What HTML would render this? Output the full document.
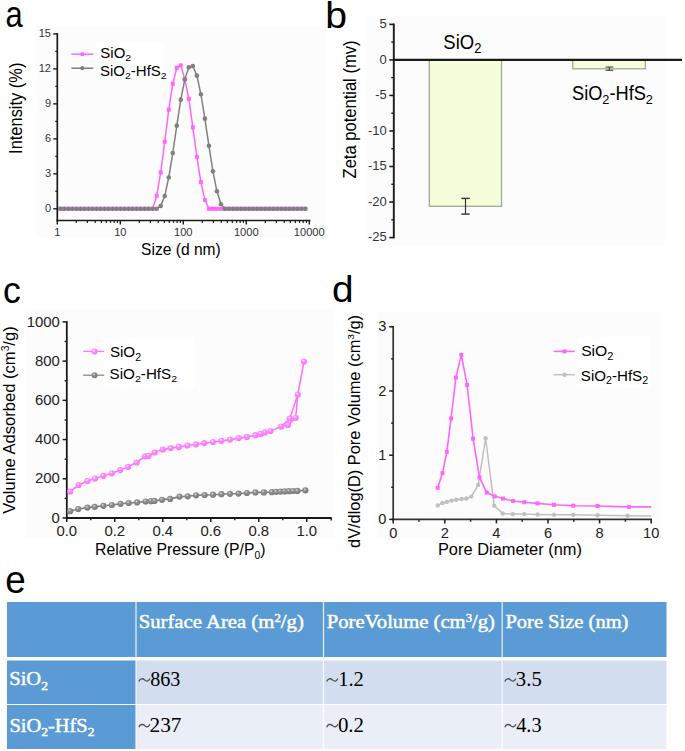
<!DOCTYPE html>
<html><head><meta charset="utf-8"><style>
html,body{margin:0;padding:0;background:#fff;width:685px;height:751px;overflow:hidden}
svg{display:block}
</style></head><body>
<svg width="685" height="751" viewBox="0 0 685 751">
<rect x="0.00" y="0.00" width="685.00" height="751.00" fill="#fff"/>
<defs><radialGradient id="gp" cx="40%" cy="35%" r="65%"><stop offset="0" stop-color="#fff4ff"/><stop offset="0.35" stop-color="#ff8cff"/><stop offset="1" stop-color="#ff6eff"/></radialGradient><radialGradient id="gg" cx="40%" cy="35%" r="65%"><stop offset="0" stop-color="#e0e0e0"/><stop offset="0.35" stop-color="#909090"/><stop offset="1" stop-color="#7a7a7a"/></radialGradient></defs>
<text x="5.49" y="27.27" font-family="&quot;Liberation Sans&quot;, sans-serif" font-size="37.8" fill="#000" textLength="17.24" lengthAdjust="spacingAndGlyphs">a</text>
<text x="325.33" y="27.9" font-family="&quot;Liberation Sans&quot;, sans-serif" font-size="37.83" fill="#000" textLength="21.77" lengthAdjust="spacingAndGlyphs">b</text>
<text x="2.99" y="303.15" font-family="&quot;Liberation Sans&quot;, sans-serif" font-size="37.8" fill="#000" textLength="17.82" lengthAdjust="spacingAndGlyphs">c</text>
<text x="331.92" y="302.45" font-family="&quot;Liberation Sans&quot;, sans-serif" font-size="37.69" fill="#000" textLength="21.58" lengthAdjust="spacingAndGlyphs">d</text>
<text x="5.37" y="592.88" font-family="&quot;Liberation Sans&quot;, sans-serif" font-size="38.05" fill="#000" textLength="20.51" lengthAdjust="spacingAndGlyphs">e</text>
<rect x="36.00" y="26.00" width="290.00" height="211.50" fill="#FCFCFC"/>
<rect x="95.40" y="42.00" width="68.30" height="37.80" fill="#fff"/>
<line x1="57.30" y1="33.10" x2="57.30" y2="221.30" stroke="#1a1a1a" stroke-width="1.7"/>
<line x1="56.50" y1="220.50" x2="310.40" y2="220.50" stroke="#1a1a1a" stroke-width="1.7"/>
<line x1="53.30" y1="208.80" x2="57.30" y2="208.80" stroke="#1a1a1a" stroke-width="1.4"/>
<text x="51.0" y="211.8" font-family="&quot;Liberation Sans&quot;, sans-serif" font-size="11.0" fill="#333" text-anchor="end">0</text>
<line x1="53.30" y1="173.82" x2="57.30" y2="173.82" stroke="#1a1a1a" stroke-width="1.4"/>
<text x="51.0" y="176.82" font-family="&quot;Liberation Sans&quot;, sans-serif" font-size="11.0" fill="#333" text-anchor="end">3</text>
<line x1="53.30" y1="138.84" x2="57.30" y2="138.84" stroke="#1a1a1a" stroke-width="1.4"/>
<text x="51.0" y="141.84" font-family="&quot;Liberation Sans&quot;, sans-serif" font-size="11.0" fill="#333" text-anchor="end">6</text>
<line x1="53.30" y1="103.86" x2="57.30" y2="103.86" stroke="#1a1a1a" stroke-width="1.4"/>
<text x="51.0" y="106.86" font-family="&quot;Liberation Sans&quot;, sans-serif" font-size="11.0" fill="#333" text-anchor="end">9</text>
<line x1="53.30" y1="68.88" x2="57.30" y2="68.88" stroke="#1a1a1a" stroke-width="1.4"/>
<text x="51.0" y="71.88" font-family="&quot;Liberation Sans&quot;, sans-serif" font-size="11.0" fill="#333" text-anchor="end">12</text>
<line x1="53.30" y1="33.90" x2="57.30" y2="33.90" stroke="#1a1a1a" stroke-width="1.4"/>
<text x="51.0" y="36.9" font-family="&quot;Liberation Sans&quot;, sans-serif" font-size="11.0" fill="#333" text-anchor="end">15</text>
<line x1="55.30" y1="191.31" x2="57.30" y2="191.31" stroke="#1a1a1a" stroke-width="1.3"/>
<line x1="55.30" y1="156.33" x2="57.30" y2="156.33" stroke="#1a1a1a" stroke-width="1.3"/>
<line x1="55.30" y1="121.35" x2="57.30" y2="121.35" stroke="#1a1a1a" stroke-width="1.3"/>
<line x1="55.30" y1="86.37" x2="57.30" y2="86.37" stroke="#1a1a1a" stroke-width="1.3"/>
<line x1="55.30" y1="51.39" x2="57.30" y2="51.39" stroke="#1a1a1a" stroke-width="1.3"/>
<line x1="57.30" y1="220.50" x2="57.30" y2="224.50" stroke="#1a1a1a" stroke-width="1.4"/>
<text x="57.3" y="235.6" font-family="&quot;Liberation Sans&quot;, sans-serif" font-size="11.1" fill="#333" text-anchor="middle">1</text>
<line x1="76.26" y1="220.50" x2="76.26" y2="222.90" stroke="#1a1a1a" stroke-width="1.2"/>
<line x1="87.36" y1="220.50" x2="87.36" y2="222.90" stroke="#1a1a1a" stroke-width="1.2"/>
<line x1="95.23" y1="220.50" x2="95.23" y2="222.90" stroke="#1a1a1a" stroke-width="1.2"/>
<line x1="101.34" y1="220.50" x2="101.34" y2="222.90" stroke="#1a1a1a" stroke-width="1.2"/>
<line x1="106.32" y1="220.50" x2="106.32" y2="222.90" stroke="#1a1a1a" stroke-width="1.2"/>
<line x1="110.54" y1="220.50" x2="110.54" y2="222.90" stroke="#1a1a1a" stroke-width="1.2"/>
<line x1="114.19" y1="220.50" x2="114.19" y2="222.90" stroke="#1a1a1a" stroke-width="1.2"/>
<line x1="117.42" y1="220.50" x2="117.42" y2="222.90" stroke="#1a1a1a" stroke-width="1.2"/>
<line x1="120.30" y1="220.50" x2="120.30" y2="224.50" stroke="#1a1a1a" stroke-width="1.4"/>
<text x="120.3" y="235.6" font-family="&quot;Liberation Sans&quot;, sans-serif" font-size="11.1" fill="#333" text-anchor="middle">10</text>
<line x1="139.26" y1="220.50" x2="139.26" y2="222.90" stroke="#1a1a1a" stroke-width="1.2"/>
<line x1="150.36" y1="220.50" x2="150.36" y2="222.90" stroke="#1a1a1a" stroke-width="1.2"/>
<line x1="158.23" y1="220.50" x2="158.23" y2="222.90" stroke="#1a1a1a" stroke-width="1.2"/>
<line x1="164.34" y1="220.50" x2="164.34" y2="222.90" stroke="#1a1a1a" stroke-width="1.2"/>
<line x1="169.32" y1="220.50" x2="169.32" y2="222.90" stroke="#1a1a1a" stroke-width="1.2"/>
<line x1="173.54" y1="220.50" x2="173.54" y2="222.90" stroke="#1a1a1a" stroke-width="1.2"/>
<line x1="177.19" y1="220.50" x2="177.19" y2="222.90" stroke="#1a1a1a" stroke-width="1.2"/>
<line x1="180.42" y1="220.50" x2="180.42" y2="222.90" stroke="#1a1a1a" stroke-width="1.2"/>
<line x1="183.30" y1="220.50" x2="183.30" y2="224.50" stroke="#1a1a1a" stroke-width="1.4"/>
<text x="183.3" y="235.6" font-family="&quot;Liberation Sans&quot;, sans-serif" font-size="11.1" fill="#333" text-anchor="middle">100</text>
<line x1="202.26" y1="220.50" x2="202.26" y2="222.90" stroke="#1a1a1a" stroke-width="1.2"/>
<line x1="213.36" y1="220.50" x2="213.36" y2="222.90" stroke="#1a1a1a" stroke-width="1.2"/>
<line x1="221.23" y1="220.50" x2="221.23" y2="222.90" stroke="#1a1a1a" stroke-width="1.2"/>
<line x1="227.34" y1="220.50" x2="227.34" y2="222.90" stroke="#1a1a1a" stroke-width="1.2"/>
<line x1="232.32" y1="220.50" x2="232.32" y2="222.90" stroke="#1a1a1a" stroke-width="1.2"/>
<line x1="236.54" y1="220.50" x2="236.54" y2="222.90" stroke="#1a1a1a" stroke-width="1.2"/>
<line x1="240.19" y1="220.50" x2="240.19" y2="222.90" stroke="#1a1a1a" stroke-width="1.2"/>
<line x1="243.42" y1="220.50" x2="243.42" y2="222.90" stroke="#1a1a1a" stroke-width="1.2"/>
<line x1="246.30" y1="220.50" x2="246.30" y2="224.50" stroke="#1a1a1a" stroke-width="1.4"/>
<text x="246.3" y="235.6" font-family="&quot;Liberation Sans&quot;, sans-serif" font-size="11.1" fill="#333" text-anchor="middle">1000</text>
<line x1="265.26" y1="220.50" x2="265.26" y2="222.90" stroke="#1a1a1a" stroke-width="1.2"/>
<line x1="276.36" y1="220.50" x2="276.36" y2="222.90" stroke="#1a1a1a" stroke-width="1.2"/>
<line x1="284.23" y1="220.50" x2="284.23" y2="222.90" stroke="#1a1a1a" stroke-width="1.2"/>
<line x1="290.34" y1="220.50" x2="290.34" y2="222.90" stroke="#1a1a1a" stroke-width="1.2"/>
<line x1="295.32" y1="220.50" x2="295.32" y2="222.90" stroke="#1a1a1a" stroke-width="1.2"/>
<line x1="299.54" y1="220.50" x2="299.54" y2="222.90" stroke="#1a1a1a" stroke-width="1.2"/>
<line x1="303.19" y1="220.50" x2="303.19" y2="222.90" stroke="#1a1a1a" stroke-width="1.2"/>
<line x1="306.42" y1="220.50" x2="306.42" y2="222.90" stroke="#1a1a1a" stroke-width="1.2"/>
<line x1="309.30" y1="220.50" x2="309.30" y2="224.50" stroke="#1a1a1a" stroke-width="1.4"/>
<text x="309.3" y="235.6" font-family="&quot;Liberation Sans&quot;, sans-serif" font-size="11.1" fill="#333" text-anchor="middle">10000</text>
<polyline points="60.34,208.80 64.35,208.80 68.37,208.80 72.38,208.80 76.40,208.80 80.42,208.80 84.43,208.80 88.45,208.80 92.46,208.80 96.48,208.80 100.49,208.80 104.51,208.80 108.52,208.80 112.54,208.80 116.56,208.80 120.57,208.80 124.59,208.80 128.60,208.80 132.62,208.80 136.63,208.80 140.65,208.80 144.66,208.80 148.68,208.80 152.70,208.80 156.71,195.74 160.73,172.30 164.74,141.75 168.76,109.69 172.77,83.69 176.79,67.71 180.80,65.38 184.82,79.37 188.83,98.96 192.85,127.41 196.87,156.80 200.88,182.10 204.90,200.06 208.91,208.80 212.93,208.80 216.94,208.80 220.96,208.80 224.97,208.80 228.99,208.80 233.01,208.80 237.02,208.80 241.04,208.80 245.05,208.80 249.07,208.80 253.08,208.80 257.10,208.80 261.11,208.80 265.13,208.80 269.14,208.80 273.16,208.80 277.18,208.80 281.19,208.80 285.21,208.80 289.22,208.80 293.24,208.80 297.25,208.80 301.27,208.80 305.28,208.80" fill="none" stroke="#FF66FF" stroke-width="1.5" stroke-linejoin="round"/>
<rect x="58.34" y="206.80" width="4.00" height="4.00" fill="#FF66FF"/>
<rect x="62.35" y="206.80" width="4.00" height="4.00" fill="#FF66FF"/>
<rect x="66.37" y="206.80" width="4.00" height="4.00" fill="#FF66FF"/>
<rect x="70.38" y="206.80" width="4.00" height="4.00" fill="#FF66FF"/>
<rect x="74.40" y="206.80" width="4.00" height="4.00" fill="#FF66FF"/>
<rect x="78.42" y="206.80" width="4.00" height="4.00" fill="#FF66FF"/>
<rect x="82.43" y="206.80" width="4.00" height="4.00" fill="#FF66FF"/>
<rect x="86.45" y="206.80" width="4.00" height="4.00" fill="#FF66FF"/>
<rect x="90.46" y="206.80" width="4.00" height="4.00" fill="#FF66FF"/>
<rect x="94.48" y="206.80" width="4.00" height="4.00" fill="#FF66FF"/>
<rect x="98.49" y="206.80" width="4.00" height="4.00" fill="#FF66FF"/>
<rect x="102.51" y="206.80" width="4.00" height="4.00" fill="#FF66FF"/>
<rect x="106.52" y="206.80" width="4.00" height="4.00" fill="#FF66FF"/>
<rect x="110.54" y="206.80" width="4.00" height="4.00" fill="#FF66FF"/>
<rect x="114.56" y="206.80" width="4.00" height="4.00" fill="#FF66FF"/>
<rect x="118.57" y="206.80" width="4.00" height="4.00" fill="#FF66FF"/>
<rect x="122.59" y="206.80" width="4.00" height="4.00" fill="#FF66FF"/>
<rect x="126.60" y="206.80" width="4.00" height="4.00" fill="#FF66FF"/>
<rect x="130.62" y="206.80" width="4.00" height="4.00" fill="#FF66FF"/>
<rect x="134.63" y="206.80" width="4.00" height="4.00" fill="#FF66FF"/>
<rect x="138.65" y="206.80" width="4.00" height="4.00" fill="#FF66FF"/>
<rect x="142.66" y="206.80" width="4.00" height="4.00" fill="#FF66FF"/>
<rect x="146.68" y="206.80" width="4.00" height="4.00" fill="#FF66FF"/>
<rect x="150.70" y="206.80" width="4.00" height="4.00" fill="#FF66FF"/>
<rect x="154.71" y="193.74" width="4.00" height="4.00" fill="#FF66FF"/>
<rect x="158.73" y="170.30" width="4.00" height="4.00" fill="#FF66FF"/>
<rect x="162.74" y="139.75" width="4.00" height="4.00" fill="#FF66FF"/>
<rect x="166.76" y="107.69" width="4.00" height="4.00" fill="#FF66FF"/>
<rect x="170.77" y="81.69" width="4.00" height="4.00" fill="#FF66FF"/>
<rect x="174.79" y="65.71" width="4.00" height="4.00" fill="#FF66FF"/>
<rect x="178.80" y="63.38" width="4.00" height="4.00" fill="#FF66FF"/>
<rect x="182.82" y="77.37" width="4.00" height="4.00" fill="#FF66FF"/>
<rect x="186.83" y="96.96" width="4.00" height="4.00" fill="#FF66FF"/>
<rect x="190.85" y="125.41" width="4.00" height="4.00" fill="#FF66FF"/>
<rect x="194.87" y="154.80" width="4.00" height="4.00" fill="#FF66FF"/>
<rect x="198.88" y="180.10" width="4.00" height="4.00" fill="#FF66FF"/>
<rect x="202.90" y="198.06" width="4.00" height="4.00" fill="#FF66FF"/>
<rect x="206.91" y="206.80" width="4.00" height="4.00" fill="#FF66FF"/>
<rect x="210.93" y="206.80" width="4.00" height="4.00" fill="#FF66FF"/>
<rect x="214.94" y="206.80" width="4.00" height="4.00" fill="#FF66FF"/>
<rect x="218.96" y="206.80" width="4.00" height="4.00" fill="#FF66FF"/>
<rect x="222.97" y="206.80" width="4.00" height="4.00" fill="#FF66FF"/>
<rect x="226.99" y="206.80" width="4.00" height="4.00" fill="#FF66FF"/>
<rect x="231.01" y="206.80" width="4.00" height="4.00" fill="#FF66FF"/>
<rect x="235.02" y="206.80" width="4.00" height="4.00" fill="#FF66FF"/>
<rect x="239.04" y="206.80" width="4.00" height="4.00" fill="#FF66FF"/>
<rect x="243.05" y="206.80" width="4.00" height="4.00" fill="#FF66FF"/>
<rect x="247.07" y="206.80" width="4.00" height="4.00" fill="#FF66FF"/>
<rect x="251.08" y="206.80" width="4.00" height="4.00" fill="#FF66FF"/>
<rect x="255.10" y="206.80" width="4.00" height="4.00" fill="#FF66FF"/>
<rect x="259.11" y="206.80" width="4.00" height="4.00" fill="#FF66FF"/>
<rect x="263.13" y="206.80" width="4.00" height="4.00" fill="#FF66FF"/>
<rect x="267.14" y="206.80" width="4.00" height="4.00" fill="#FF66FF"/>
<rect x="271.16" y="206.80" width="4.00" height="4.00" fill="#FF66FF"/>
<rect x="275.18" y="206.80" width="4.00" height="4.00" fill="#FF66FF"/>
<rect x="279.19" y="206.80" width="4.00" height="4.00" fill="#FF66FF"/>
<rect x="283.21" y="206.80" width="4.00" height="4.00" fill="#FF66FF"/>
<rect x="287.22" y="206.80" width="4.00" height="4.00" fill="#FF66FF"/>
<rect x="291.24" y="206.80" width="4.00" height="4.00" fill="#FF66FF"/>
<rect x="295.25" y="206.80" width="4.00" height="4.00" fill="#FF66FF"/>
<rect x="299.27" y="206.80" width="4.00" height="4.00" fill="#FF66FF"/>
<rect x="303.28" y="206.80" width="4.00" height="4.00" fill="#FF66FF"/>
<polyline points="60.34,208.80 64.35,208.80 68.37,208.80 72.38,208.80 76.40,208.80 80.42,208.80 84.43,208.80 88.45,208.80 92.46,208.80 96.48,208.80 100.49,208.80 104.51,208.80 108.52,208.80 112.54,208.80 116.56,208.80 120.57,208.80 124.59,208.80 128.60,208.80 132.62,208.80 136.63,208.80 140.65,208.80 144.66,208.80 148.68,208.80 152.70,208.80 156.71,208.80 160.73,205.89 164.74,195.97 168.76,177.43 172.77,153.07 176.79,125.66 180.80,99.66 184.82,79.37 188.83,67.36 192.85,65.97 196.87,75.64 200.88,94.18 204.90,118.67 208.91,145.84 212.93,171.37 216.94,191.31 220.96,204.25 224.97,208.80 228.99,208.80 233.01,208.80 237.02,208.80 241.04,208.80 245.05,208.80 249.07,208.80 253.08,208.80 257.10,208.80 261.11,208.80 265.13,208.80 269.14,208.80 273.16,208.80 277.18,208.80 281.19,208.80 285.21,208.80 289.22,208.80 293.24,208.80 297.25,208.80 301.27,208.80 305.28,208.80" fill="none" stroke="#808080" stroke-width="1.5" stroke-linejoin="round"/>
<circle cx="60.34" cy="208.80" r="2.3" fill="#808080"/>
<circle cx="64.35" cy="208.80" r="2.3" fill="#808080"/>
<circle cx="68.37" cy="208.80" r="2.3" fill="#808080"/>
<circle cx="72.38" cy="208.80" r="2.3" fill="#808080"/>
<circle cx="76.40" cy="208.80" r="2.3" fill="#808080"/>
<circle cx="80.42" cy="208.80" r="2.3" fill="#808080"/>
<circle cx="84.43" cy="208.80" r="2.3" fill="#808080"/>
<circle cx="88.45" cy="208.80" r="2.3" fill="#808080"/>
<circle cx="92.46" cy="208.80" r="2.3" fill="#808080"/>
<circle cx="96.48" cy="208.80" r="2.3" fill="#808080"/>
<circle cx="100.49" cy="208.80" r="2.3" fill="#808080"/>
<circle cx="104.51" cy="208.80" r="2.3" fill="#808080"/>
<circle cx="108.52" cy="208.80" r="2.3" fill="#808080"/>
<circle cx="112.54" cy="208.80" r="2.3" fill="#808080"/>
<circle cx="116.56" cy="208.80" r="2.3" fill="#808080"/>
<circle cx="120.57" cy="208.80" r="2.3" fill="#808080"/>
<circle cx="124.59" cy="208.80" r="2.3" fill="#808080"/>
<circle cx="128.60" cy="208.80" r="2.3" fill="#808080"/>
<circle cx="132.62" cy="208.80" r="2.3" fill="#808080"/>
<circle cx="136.63" cy="208.80" r="2.3" fill="#808080"/>
<circle cx="140.65" cy="208.80" r="2.3" fill="#808080"/>
<circle cx="144.66" cy="208.80" r="2.3" fill="#808080"/>
<circle cx="148.68" cy="208.80" r="2.3" fill="#808080"/>
<circle cx="152.70" cy="208.80" r="2.3" fill="#808080"/>
<circle cx="156.71" cy="208.80" r="2.3" fill="#808080"/>
<circle cx="160.73" cy="205.89" r="2.3" fill="#808080"/>
<circle cx="164.74" cy="195.97" r="2.3" fill="#808080"/>
<circle cx="168.76" cy="177.43" r="2.3" fill="#808080"/>
<circle cx="172.77" cy="153.07" r="2.3" fill="#808080"/>
<circle cx="176.79" cy="125.66" r="2.3" fill="#808080"/>
<circle cx="180.80" cy="99.66" r="2.3" fill="#808080"/>
<circle cx="184.82" cy="79.37" r="2.3" fill="#808080"/>
<circle cx="188.83" cy="67.36" r="2.3" fill="#808080"/>
<circle cx="192.85" cy="65.97" r="2.3" fill="#808080"/>
<circle cx="196.87" cy="75.64" r="2.3" fill="#808080"/>
<circle cx="200.88" cy="94.18" r="2.3" fill="#808080"/>
<circle cx="204.90" cy="118.67" r="2.3" fill="#808080"/>
<circle cx="208.91" cy="145.84" r="2.3" fill="#808080"/>
<circle cx="212.93" cy="171.37" r="2.3" fill="#808080"/>
<circle cx="216.94" cy="191.31" r="2.3" fill="#808080"/>
<circle cx="220.96" cy="204.25" r="2.3" fill="#808080"/>
<circle cx="224.97" cy="208.80" r="2.3" fill="#808080"/>
<circle cx="228.99" cy="208.80" r="2.3" fill="#808080"/>
<circle cx="233.01" cy="208.80" r="2.3" fill="#808080"/>
<circle cx="237.02" cy="208.80" r="2.3" fill="#808080"/>
<circle cx="241.04" cy="208.80" r="2.3" fill="#808080"/>
<circle cx="245.05" cy="208.80" r="2.3" fill="#808080"/>
<circle cx="249.07" cy="208.80" r="2.3" fill="#808080"/>
<circle cx="253.08" cy="208.80" r="2.3" fill="#808080"/>
<circle cx="257.10" cy="208.80" r="2.3" fill="#808080"/>
<circle cx="261.11" cy="208.80" r="2.3" fill="#808080"/>
<circle cx="265.13" cy="208.80" r="2.3" fill="#808080"/>
<circle cx="269.14" cy="208.80" r="2.3" fill="#808080"/>
<circle cx="273.16" cy="208.80" r="2.3" fill="#808080"/>
<circle cx="277.18" cy="208.80" r="2.3" fill="#808080"/>
<circle cx="281.19" cy="208.80" r="2.3" fill="#808080"/>
<circle cx="285.21" cy="208.80" r="2.3" fill="#808080"/>
<circle cx="289.22" cy="208.80" r="2.3" fill="#808080"/>
<circle cx="293.24" cy="208.80" r="2.3" fill="#808080"/>
<circle cx="297.25" cy="208.80" r="2.3" fill="#808080"/>
<circle cx="301.27" cy="208.80" r="2.3" fill="#808080"/>
<circle cx="305.28" cy="208.80" r="2.3" fill="#808080"/>
<line x1="71.40" y1="54.20" x2="93.30" y2="54.20" stroke="#FF66FF" stroke-width="1.5"/>
<rect x="80.50" y="52.40" width="3.60" height="3.60" fill="#FF66FF"/>
<line x1="71.40" y1="68.20" x2="93.30" y2="68.20" stroke="#808080" stroke-width="1.5"/>
<circle cx="82.30" cy="68.20" r="2.1" fill="#808080"/>
<text x="100.32" y="57.96" font-family="&quot;Liberation Sans&quot;, sans-serif" font-size="14.17" fill="#000" textLength="30.87" lengthAdjust="spacingAndGlyphs">SiO<tspan font-size="9.92" dy="3.4">2</tspan></text>
<text x="99.92" y="75.55" font-family="&quot;Liberation Sans&quot;, sans-serif" font-size="14.03" fill="#000" textLength="66.76" lengthAdjust="spacingAndGlyphs">SiO<tspan font-size="9.82" dy="3.37">2</tspan><tspan dy="-3.37">-HfS</tspan><tspan font-size="9.82" dy="3.37">2</tspan></text>
<text x="141.07" y="255.07" font-family="&quot;Liberation Sans&quot;, sans-serif" font-size="16.96" fill="#000" textLength="79.7" lengthAdjust="spacingAndGlyphs">Size (d nm)</text>
<text x="21.53" y="153.9" font-family="&quot;Liberation Sans&quot;, sans-serif" font-size="18.01" fill="#000" textLength="91.3" lengthAdjust="spacingAndGlyphs" transform="rotate(-90 21.53 153.9)">Intensity (%)</text>
<rect x="366.00" y="14.60" width="300.00" height="230.60" fill="#FCFCFC"/>
<line x1="393.80" y1="23.56" x2="393.80" y2="238.38" stroke="#1a1a1a" stroke-width="1.9"/>
<line x1="389.30" y1="24.36" x2="393.80" y2="24.36" stroke="#1a1a1a" stroke-width="1.6"/>
<text x="386.7" y="28.26" font-family="&quot;Liberation Sans&quot;, sans-serif" font-size="13.0" fill="#333" text-anchor="end">5</text>
<line x1="389.30" y1="59.90" x2="393.80" y2="59.90" stroke="#1a1a1a" stroke-width="1.6"/>
<text x="386.7" y="63.8" font-family="&quot;Liberation Sans&quot;, sans-serif" font-size="13.0" fill="#333" text-anchor="end">0</text>
<line x1="389.30" y1="95.44" x2="393.80" y2="95.44" stroke="#1a1a1a" stroke-width="1.6"/>
<text x="386.7" y="99.34" font-family="&quot;Liberation Sans&quot;, sans-serif" font-size="13.0" fill="#333" text-anchor="end">-5</text>
<line x1="389.30" y1="130.97" x2="393.80" y2="130.97" stroke="#1a1a1a" stroke-width="1.6"/>
<text x="386.7" y="134.87" font-family="&quot;Liberation Sans&quot;, sans-serif" font-size="13.0" fill="#333" text-anchor="end">-10</text>
<line x1="389.30" y1="166.50" x2="393.80" y2="166.50" stroke="#1a1a1a" stroke-width="1.6"/>
<text x="386.7" y="170.41" font-family="&quot;Liberation Sans&quot;, sans-serif" font-size="13.0" fill="#333" text-anchor="end">-15</text>
<line x1="389.30" y1="202.04" x2="393.80" y2="202.04" stroke="#1a1a1a" stroke-width="1.6"/>
<text x="386.7" y="205.94" font-family="&quot;Liberation Sans&quot;, sans-serif" font-size="13.0" fill="#333" text-anchor="end">-20</text>
<line x1="389.30" y1="237.58" x2="393.80" y2="237.58" stroke="#1a1a1a" stroke-width="1.6"/>
<text x="386.7" y="241.48" font-family="&quot;Liberation Sans&quot;, sans-serif" font-size="13.0" fill="#333" text-anchor="end">-25</text>
<line x1="391.30" y1="42.13" x2="393.80" y2="42.13" stroke="#1a1a1a" stroke-width="1.4"/>
<line x1="391.30" y1="77.67" x2="393.80" y2="77.67" stroke="#1a1a1a" stroke-width="1.4"/>
<line x1="391.30" y1="113.20" x2="393.80" y2="113.20" stroke="#1a1a1a" stroke-width="1.4"/>
<line x1="391.30" y1="148.74" x2="393.80" y2="148.74" stroke="#1a1a1a" stroke-width="1.4"/>
<line x1="391.30" y1="184.27" x2="393.80" y2="184.27" stroke="#1a1a1a" stroke-width="1.4"/>
<line x1="391.30" y1="219.81" x2="393.80" y2="219.81" stroke="#1a1a1a" stroke-width="1.4"/>
<rect x="429.30" y="59.90" width="72.20" height="146.40" fill="#F5FEDA" stroke="#A3A797" stroke-width="1.3"/>
<rect x="572.80" y="59.90" width="72.60" height="8.90" fill="#F5FEDA" stroke="#A3A797" stroke-width="1.3"/>
<line x1="393.80" y1="59.90" x2="682.00" y2="59.90" stroke="#1a1a1a" stroke-width="2.2"/>
<line x1="465.50" y1="198.40" x2="465.50" y2="214.10" stroke="#333" stroke-width="1.2"/>
<line x1="461.30" y1="198.40" x2="469.70" y2="198.40" stroke="#333" stroke-width="1.4"/>
<line x1="461.30" y1="214.10" x2="469.70" y2="214.10" stroke="#333" stroke-width="1.4"/>
<line x1="609.30" y1="67.00" x2="609.30" y2="70.30" stroke="#333" stroke-width="1.0"/>
<line x1="605.60" y1="67.00" x2="613.30" y2="67.00" stroke="#333" stroke-width="1.0"/>
<line x1="605.60" y1="70.30" x2="613.30" y2="70.30" stroke="#333" stroke-width="1.0"/>
<text x="443.3" y="48.7" font-family="&quot;Liberation Sans&quot;, sans-serif" font-size="19.81" fill="#000" textLength="38.04" lengthAdjust="spacingAndGlyphs">SiO<tspan font-size="13.87" dy="4.75">2</tspan></text>
<text x="572.03" y="99.56" font-family="&quot;Liberation Sans&quot;, sans-serif" font-size="19.36" fill="#000" textLength="80.93" lengthAdjust="spacingAndGlyphs">SiO<tspan font-size="13.55" dy="4.65">2</tspan><tspan dy="-4.65">-HfS</tspan><tspan font-size="13.55" dy="4.65">2</tspan></text>
<text x="356.37" y="178.45" font-family="&quot;Liberation Sans&quot;, sans-serif" font-size="18.19" fill="#000" textLength="137.93" lengthAdjust="spacingAndGlyphs" transform="rotate(-90 356.37 178.45)">Zeta potential (mv)</text>
<rect x="25.30" y="309.20" width="308.70" height="228.80" fill="#FCFCFC"/>
<rect x="104.60" y="337.00" width="90.00" height="51.40" fill="#fff"/>
<line x1="66.80" y1="321.10" x2="66.80" y2="518.80" stroke="#1a1a1a" stroke-width="1.8"/>
<line x1="66.00" y1="518.00" x2="331.20" y2="518.00" stroke="#1a1a1a" stroke-width="1.8"/>
<line x1="331.20" y1="517.20" x2="331.20" y2="520.50" stroke="#1a1a1a" stroke-width="1.4"/>
<line x1="62.60" y1="518.00" x2="66.80" y2="518.00" stroke="#1a1a1a" stroke-width="1.5"/>
<text x="59.9" y="522.6" font-family="&quot;Liberation Sans&quot;, sans-serif" font-size="14.9" fill="#222" text-anchor="end">0</text>
<line x1="62.60" y1="478.78" x2="66.80" y2="478.78" stroke="#1a1a1a" stroke-width="1.5"/>
<text x="59.9" y="483.38" font-family="&quot;Liberation Sans&quot;, sans-serif" font-size="14.9" fill="#222" text-anchor="end">200</text>
<line x1="62.60" y1="439.56" x2="66.80" y2="439.56" stroke="#1a1a1a" stroke-width="1.5"/>
<text x="59.9" y="444.16" font-family="&quot;Liberation Sans&quot;, sans-serif" font-size="14.9" fill="#222" text-anchor="end">400</text>
<line x1="62.60" y1="400.34" x2="66.80" y2="400.34" stroke="#1a1a1a" stroke-width="1.5"/>
<text x="59.9" y="404.94" font-family="&quot;Liberation Sans&quot;, sans-serif" font-size="14.9" fill="#222" text-anchor="end">600</text>
<line x1="62.60" y1="361.12" x2="66.80" y2="361.12" stroke="#1a1a1a" stroke-width="1.5"/>
<text x="59.9" y="365.72" font-family="&quot;Liberation Sans&quot;, sans-serif" font-size="14.9" fill="#222" text-anchor="end">800</text>
<line x1="62.60" y1="321.90" x2="66.80" y2="321.90" stroke="#1a1a1a" stroke-width="1.5"/>
<text x="59.9" y="326.5" font-family="&quot;Liberation Sans&quot;, sans-serif" font-size="14.9" fill="#222" text-anchor="end">1000</text>
<line x1="64.60" y1="498.39" x2="66.80" y2="498.39" stroke="#1a1a1a" stroke-width="1.4"/>
<line x1="64.60" y1="459.17" x2="66.80" y2="459.17" stroke="#1a1a1a" stroke-width="1.4"/>
<line x1="64.60" y1="419.95" x2="66.80" y2="419.95" stroke="#1a1a1a" stroke-width="1.4"/>
<line x1="64.60" y1="380.73" x2="66.80" y2="380.73" stroke="#1a1a1a" stroke-width="1.4"/>
<line x1="64.60" y1="341.51" x2="66.80" y2="341.51" stroke="#1a1a1a" stroke-width="1.4"/>
<line x1="66.80" y1="518.00" x2="66.80" y2="522.00" stroke="#1a1a1a" stroke-width="1.5"/>
<text x="66.8" y="536.1" font-family="&quot;Liberation Sans&quot;, sans-serif" font-size="14.9" fill="#222" text-anchor="middle">0.0</text>
<line x1="90.80" y1="518.00" x2="90.80" y2="520.30" stroke="#1a1a1a" stroke-width="1.4"/>
<line x1="114.80" y1="518.00" x2="114.80" y2="522.00" stroke="#1a1a1a" stroke-width="1.5"/>
<text x="114.8" y="536.1" font-family="&quot;Liberation Sans&quot;, sans-serif" font-size="14.9" fill="#222" text-anchor="middle">0.2</text>
<line x1="138.80" y1="518.00" x2="138.80" y2="520.30" stroke="#1a1a1a" stroke-width="1.4"/>
<line x1="162.80" y1="518.00" x2="162.80" y2="522.00" stroke="#1a1a1a" stroke-width="1.5"/>
<text x="162.8" y="536.1" font-family="&quot;Liberation Sans&quot;, sans-serif" font-size="14.9" fill="#222" text-anchor="middle">0.4</text>
<line x1="186.80" y1="518.00" x2="186.80" y2="520.30" stroke="#1a1a1a" stroke-width="1.4"/>
<line x1="210.80" y1="518.00" x2="210.80" y2="522.00" stroke="#1a1a1a" stroke-width="1.5"/>
<text x="210.8" y="536.1" font-family="&quot;Liberation Sans&quot;, sans-serif" font-size="14.9" fill="#222" text-anchor="middle">0.6</text>
<line x1="234.80" y1="518.00" x2="234.80" y2="520.30" stroke="#1a1a1a" stroke-width="1.4"/>
<line x1="258.80" y1="518.00" x2="258.80" y2="522.00" stroke="#1a1a1a" stroke-width="1.5"/>
<text x="258.8" y="536.1" font-family="&quot;Liberation Sans&quot;, sans-serif" font-size="14.9" fill="#222" text-anchor="middle">0.8</text>
<line x1="282.80" y1="518.00" x2="282.80" y2="520.30" stroke="#1a1a1a" stroke-width="1.4"/>
<line x1="306.80" y1="518.00" x2="306.80" y2="522.00" stroke="#1a1a1a" stroke-width="1.5"/>
<text x="306.8" y="536.1" font-family="&quot;Liberation Sans&quot;, sans-serif" font-size="14.9" fill="#222" text-anchor="middle">1.0</text>
<polyline points="70.20,491.50 78.60,485.00 87.40,481.00 95.00,478.60 103.40,475.80 111.80,473.30 120.30,470.10 128.10,466.80 136.60,462.50 145.00,456.30 148.50,455.90 154.70,452.50 162.80,449.60 170.70,448.10 178.90,446.90 187.30,445.50 196.10,444.30 204.30,443.10 213.00,442.00 221.40,440.80 230.00,439.60 238.50,438.10 246.90,436.90 255.40,435.20 260.70,433.90 265.00,432.40 270.50,431.00 281.10,426.60 288.00,425.00 295.70,417.80 297.80,394.50 304.00,361.50" fill="none" stroke="#FF77FF" stroke-width="1.6" stroke-linejoin="round"/>
<polyline points="297.80,394.50 289.80,418.60 281.10,426.60" fill="none" stroke="#FF77FF" stroke-width="1.6" stroke-linejoin="round"/>
<polyline points="70.20,511.20 78.20,509.00 87.40,507.60 94.70,506.90 103.40,505.80 111.80,505.00 120.50,503.80 128.70,503.00 137.10,502.40 145.60,501.50 150.90,501.20 154.40,500.90 162.00,499.80 170.10,498.90 179.50,496.60 187.70,496.30 196.10,495.30 204.60,495.00 213.00,494.70 221.40,494.20 230.00,493.80 238.50,493.60 246.90,493.00 255.40,492.40 263.90,492.40 271.80,492.20 276.10,491.80 280.40,491.60 284.60,491.40 288.90,491.20 293.10,491.00 297.40,490.90 305.40,490.30" fill="none" stroke="#808080" stroke-width="1.6" stroke-linejoin="round"/>
<circle cx="70.20" cy="511.20" r="3.1" fill="url(#gg)"/>
<circle cx="78.20" cy="509.00" r="3.1" fill="url(#gg)"/>
<circle cx="87.40" cy="507.60" r="3.1" fill="url(#gg)"/>
<circle cx="94.70" cy="506.90" r="3.1" fill="url(#gg)"/>
<circle cx="103.40" cy="505.80" r="3.1" fill="url(#gg)"/>
<circle cx="111.80" cy="505.00" r="3.1" fill="url(#gg)"/>
<circle cx="120.50" cy="503.80" r="3.1" fill="url(#gg)"/>
<circle cx="128.70" cy="503.00" r="3.1" fill="url(#gg)"/>
<circle cx="137.10" cy="502.40" r="3.1" fill="url(#gg)"/>
<circle cx="145.60" cy="501.50" r="3.1" fill="url(#gg)"/>
<circle cx="150.90" cy="501.20" r="3.1" fill="url(#gg)"/>
<circle cx="154.40" cy="500.90" r="3.1" fill="url(#gg)"/>
<circle cx="162.00" cy="499.80" r="3.1" fill="url(#gg)"/>
<circle cx="170.10" cy="498.90" r="3.1" fill="url(#gg)"/>
<circle cx="179.50" cy="496.60" r="3.1" fill="url(#gg)"/>
<circle cx="187.70" cy="496.30" r="3.1" fill="url(#gg)"/>
<circle cx="196.10" cy="495.30" r="3.1" fill="url(#gg)"/>
<circle cx="204.60" cy="495.00" r="3.1" fill="url(#gg)"/>
<circle cx="213.00" cy="494.70" r="3.1" fill="url(#gg)"/>
<circle cx="221.40" cy="494.20" r="3.1" fill="url(#gg)"/>
<circle cx="230.00" cy="493.80" r="3.1" fill="url(#gg)"/>
<circle cx="238.50" cy="493.60" r="3.1" fill="url(#gg)"/>
<circle cx="246.90" cy="493.00" r="3.1" fill="url(#gg)"/>
<circle cx="255.40" cy="492.40" r="3.1" fill="url(#gg)"/>
<circle cx="263.90" cy="492.40" r="3.1" fill="url(#gg)"/>
<circle cx="271.80" cy="492.20" r="3.1" fill="url(#gg)"/>
<circle cx="276.10" cy="491.80" r="3.1" fill="url(#gg)"/>
<circle cx="280.40" cy="491.60" r="3.1" fill="url(#gg)"/>
<circle cx="284.60" cy="491.40" r="3.1" fill="url(#gg)"/>
<circle cx="288.90" cy="491.20" r="3.1" fill="url(#gg)"/>
<circle cx="293.10" cy="491.00" r="3.1" fill="url(#gg)"/>
<circle cx="297.40" cy="490.90" r="3.1" fill="url(#gg)"/>
<circle cx="305.40" cy="490.30" r="3.1" fill="url(#gg)"/>
<circle cx="70.20" cy="491.50" r="3.1" fill="url(#gp)"/>
<circle cx="78.60" cy="485.00" r="3.1" fill="url(#gp)"/>
<circle cx="87.40" cy="481.00" r="3.1" fill="url(#gp)"/>
<circle cx="95.00" cy="478.60" r="3.1" fill="url(#gp)"/>
<circle cx="103.40" cy="475.80" r="3.1" fill="url(#gp)"/>
<circle cx="111.80" cy="473.30" r="3.1" fill="url(#gp)"/>
<circle cx="120.30" cy="470.10" r="3.1" fill="url(#gp)"/>
<circle cx="128.10" cy="466.80" r="3.1" fill="url(#gp)"/>
<circle cx="136.60" cy="462.50" r="3.1" fill="url(#gp)"/>
<circle cx="145.00" cy="456.30" r="3.1" fill="url(#gp)"/>
<circle cx="148.50" cy="455.90" r="3.1" fill="url(#gp)"/>
<circle cx="154.70" cy="452.50" r="3.1" fill="url(#gp)"/>
<circle cx="162.80" cy="449.60" r="3.1" fill="url(#gp)"/>
<circle cx="170.70" cy="448.10" r="3.1" fill="url(#gp)"/>
<circle cx="178.90" cy="446.90" r="3.1" fill="url(#gp)"/>
<circle cx="187.30" cy="445.50" r="3.1" fill="url(#gp)"/>
<circle cx="196.10" cy="444.30" r="3.1" fill="url(#gp)"/>
<circle cx="204.30" cy="443.10" r="3.1" fill="url(#gp)"/>
<circle cx="213.00" cy="442.00" r="3.1" fill="url(#gp)"/>
<circle cx="221.40" cy="440.80" r="3.1" fill="url(#gp)"/>
<circle cx="230.00" cy="439.60" r="3.1" fill="url(#gp)"/>
<circle cx="238.50" cy="438.10" r="3.1" fill="url(#gp)"/>
<circle cx="246.90" cy="436.90" r="3.1" fill="url(#gp)"/>
<circle cx="255.40" cy="435.20" r="3.1" fill="url(#gp)"/>
<circle cx="260.70" cy="433.90" r="3.1" fill="url(#gp)"/>
<circle cx="265.00" cy="432.40" r="3.1" fill="url(#gp)"/>
<circle cx="270.50" cy="431.00" r="3.1" fill="url(#gp)"/>
<circle cx="281.10" cy="426.60" r="3.1" fill="url(#gp)"/>
<circle cx="288.00" cy="425.00" r="3.1" fill="url(#gp)"/>
<circle cx="295.70" cy="417.80" r="3.1" fill="url(#gp)"/>
<circle cx="297.80" cy="394.50" r="3.1" fill="url(#gp)"/>
<circle cx="304.00" cy="361.50" r="3.1" fill="url(#gp)"/>
<circle cx="289.80" cy="418.60" r="3.1" fill="url(#gp)"/>
<line x1="83.10" y1="351.40" x2="104.20" y2="351.40" stroke="#FF77FF" stroke-width="1.3"/>
<circle cx="94.50" cy="351.40" r="3.0" fill="url(#gp)"/>
<line x1="83.10" y1="375.20" x2="104.20" y2="375.20" stroke="#8a8a8a" stroke-width="1.3"/>
<circle cx="94.50" cy="375.20" r="3.0" fill="url(#gg)"/>
<text x="109.92" y="357.17" font-family="&quot;Liberation Sans&quot;, sans-serif" font-size="14.5" fill="#000" textLength="31.11" lengthAdjust="spacingAndGlyphs">SiO<tspan font-size="10.15" dy="3.48">2</tspan></text>
<text x="109.64" y="378.68" font-family="&quot;Liberation Sans&quot;, sans-serif" font-size="14.03" fill="#000" textLength="67.47" lengthAdjust="spacingAndGlyphs">SiO<tspan font-size="9.82" dy="3.37">2</tspan><tspan dy="-3.37">-HfS</tspan><tspan font-size="9.82" dy="3.37">2</tspan></text>
<text x="95.09" y="555.09" font-family="&quot;Liberation Sans&quot;, sans-serif" font-size="15.66" fill="#000" textLength="170.45" lengthAdjust="spacingAndGlyphs">Relative Pressure (P/P<tspan font-size="10.34" dy="3.76">0</tspan><tspan dy="-3.76">)</tspan></text>
<text x="14.57" y="513.63" font-family="&quot;Liberation Sans&quot;, sans-serif" font-size="16.43" fill="#000" textLength="187.37" lengthAdjust="spacingAndGlyphs" transform="rotate(-90 14.57 513.63)">Volume Adsorbed (cm<tspan font-size="10.19" dy="-5.92">3</tspan><tspan dy="5.92">/g)</tspan></text>
<rect x="377.20" y="311.50" width="283.20" height="226.70" fill="#FCFCFC"/>
<rect x="577.40" y="337.40" width="73.00" height="50.40" fill="#fff"/>
<line x1="393.20" y1="326.00" x2="393.20" y2="520.20" stroke="#333" stroke-width="1.7"/>
<line x1="392.40" y1="519.40" x2="652.00" y2="519.40" stroke="#333" stroke-width="1.7"/>
<line x1="389.20" y1="519.40" x2="393.20" y2="519.40" stroke="#1a1a1a" stroke-width="1.5"/>
<text x="386.3" y="523.9" font-family="&quot;Liberation Sans&quot;, sans-serif" font-size="14.6" fill="#222" text-anchor="end">0</text>
<line x1="389.20" y1="455.20" x2="393.20" y2="455.20" stroke="#1a1a1a" stroke-width="1.5"/>
<text x="386.3" y="459.7" font-family="&quot;Liberation Sans&quot;, sans-serif" font-size="14.6" fill="#222" text-anchor="end">1</text>
<line x1="389.20" y1="391.00" x2="393.20" y2="391.00" stroke="#1a1a1a" stroke-width="1.5"/>
<text x="386.3" y="395.5" font-family="&quot;Liberation Sans&quot;, sans-serif" font-size="14.6" fill="#222" text-anchor="end">2</text>
<line x1="389.20" y1="326.80" x2="393.20" y2="326.80" stroke="#1a1a1a" stroke-width="1.5"/>
<text x="386.3" y="331.3" font-family="&quot;Liberation Sans&quot;, sans-serif" font-size="14.6" fill="#222" text-anchor="end">3</text>
<line x1="391.20" y1="487.30" x2="393.20" y2="487.30" stroke="#1a1a1a" stroke-width="1.4"/>
<line x1="391.20" y1="423.10" x2="393.20" y2="423.10" stroke="#1a1a1a" stroke-width="1.4"/>
<line x1="391.20" y1="358.90" x2="393.20" y2="358.90" stroke="#1a1a1a" stroke-width="1.4"/>
<line x1="393.20" y1="519.40" x2="393.20" y2="523.40" stroke="#1a1a1a" stroke-width="1.5"/>
<text x="393.2" y="537.6" font-family="&quot;Liberation Sans&quot;, sans-serif" font-size="14.6" fill="#222" text-anchor="middle">0</text>
<line x1="419.00" y1="519.40" x2="419.00" y2="521.70" stroke="#1a1a1a" stroke-width="1.4"/>
<line x1="444.80" y1="519.40" x2="444.80" y2="523.40" stroke="#1a1a1a" stroke-width="1.5"/>
<text x="444.8" y="537.6" font-family="&quot;Liberation Sans&quot;, sans-serif" font-size="14.6" fill="#222" text-anchor="middle">2</text>
<line x1="470.60" y1="519.40" x2="470.60" y2="521.70" stroke="#1a1a1a" stroke-width="1.4"/>
<line x1="496.40" y1="519.40" x2="496.40" y2="523.40" stroke="#1a1a1a" stroke-width="1.5"/>
<text x="496.4" y="537.6" font-family="&quot;Liberation Sans&quot;, sans-serif" font-size="14.6" fill="#222" text-anchor="middle">4</text>
<line x1="522.20" y1="519.40" x2="522.20" y2="521.70" stroke="#1a1a1a" stroke-width="1.4"/>
<line x1="548.00" y1="519.40" x2="548.00" y2="523.40" stroke="#1a1a1a" stroke-width="1.5"/>
<text x="548.0" y="537.6" font-family="&quot;Liberation Sans&quot;, sans-serif" font-size="14.6" fill="#222" text-anchor="middle">6</text>
<line x1="573.80" y1="519.40" x2="573.80" y2="521.70" stroke="#1a1a1a" stroke-width="1.4"/>
<line x1="599.60" y1="519.40" x2="599.60" y2="523.40" stroke="#1a1a1a" stroke-width="1.5"/>
<text x="599.6" y="537.6" font-family="&quot;Liberation Sans&quot;, sans-serif" font-size="14.6" fill="#222" text-anchor="middle">8</text>
<line x1="625.40" y1="519.40" x2="625.40" y2="521.70" stroke="#1a1a1a" stroke-width="1.4"/>
<line x1="651.20" y1="519.40" x2="651.20" y2="523.40" stroke="#1a1a1a" stroke-width="1.5"/>
<text x="651.2" y="537.6" font-family="&quot;Liberation Sans&quot;, sans-serif" font-size="14.6" fill="#222" text-anchor="middle">10</text>
<polyline points="437.70,505.40 442.50,503.00 446.80,501.90 451.60,500.60 456.30,499.80 461.60,499.00 466.40,498.50 471.20,496.60 478.20,485.00 485.60,438.30 494.20,505.70 502.70,513.40 512.80,514.10 524.30,514.10 537.60,514.50 554.00,514.70 573.30,514.80 597.60,515.20 627.60,515.70 651.20,515.90" fill="none" stroke="#C0C0C0" stroke-width="1.5" stroke-linejoin="round"/>
<circle cx="437.70" cy="505.40" r="2.2" fill="#C0C0C0"/>
<circle cx="442.50" cy="503.00" r="2.2" fill="#C0C0C0"/>
<circle cx="446.80" cy="501.90" r="2.2" fill="#C0C0C0"/>
<circle cx="451.60" cy="500.60" r="2.2" fill="#C0C0C0"/>
<circle cx="456.30" cy="499.80" r="2.2" fill="#C0C0C0"/>
<circle cx="461.60" cy="499.00" r="2.2" fill="#C0C0C0"/>
<circle cx="466.40" cy="498.50" r="2.2" fill="#C0C0C0"/>
<circle cx="471.20" cy="496.60" r="2.2" fill="#C0C0C0"/>
<circle cx="478.20" cy="485.00" r="2.2" fill="#C0C0C0"/>
<circle cx="485.60" cy="438.30" r="2.2" fill="#C0C0C0"/>
<circle cx="494.20" cy="505.70" r="2.2" fill="#C0C0C0"/>
<circle cx="502.70" cy="513.40" r="2.2" fill="#C0C0C0"/>
<circle cx="512.80" cy="514.10" r="2.2" fill="#C0C0C0"/>
<circle cx="524.30" cy="514.10" r="2.2" fill="#C0C0C0"/>
<circle cx="537.60" cy="514.50" r="2.2" fill="#C0C0C0"/>
<circle cx="554.00" cy="514.70" r="2.2" fill="#C0C0C0"/>
<circle cx="573.30" cy="514.80" r="2.2" fill="#C0C0C0"/>
<circle cx="597.60" cy="515.20" r="2.2" fill="#C0C0C0"/>
<circle cx="627.60" cy="515.70" r="2.2" fill="#C0C0C0"/>
<polyline points="437.70,487.80 442.50,473.10 446.80,451.90 451.10,418.40 455.90,377.60 461.30,354.90 467.10,385.00 473.10,438.60 479.50,477.40 486.70,492.60 494.70,496.30 503.00,498.60 513.10,501.00 524.30,502.20 537.60,503.40 554.00,504.80 573.30,505.70 597.60,506.00 628.90,506.90 651.20,506.90" fill="none" stroke="#FF66FF" stroke-width="1.6" stroke-linejoin="round"/>
<rect x="435.70" y="485.80" width="4.00" height="4.00" fill="#FF66FF"/>
<rect x="440.50" y="471.10" width="4.00" height="4.00" fill="#FF66FF"/>
<rect x="444.80" y="449.90" width="4.00" height="4.00" fill="#FF66FF"/>
<rect x="449.10" y="416.40" width="4.00" height="4.00" fill="#FF66FF"/>
<rect x="453.90" y="375.60" width="4.00" height="4.00" fill="#FF66FF"/>
<rect x="459.30" y="352.90" width="4.00" height="4.00" fill="#FF66FF"/>
<rect x="465.10" y="383.00" width="4.00" height="4.00" fill="#FF66FF"/>
<rect x="471.10" y="436.60" width="4.00" height="4.00" fill="#FF66FF"/>
<rect x="477.50" y="475.40" width="4.00" height="4.00" fill="#FF66FF"/>
<rect x="484.70" y="490.60" width="4.00" height="4.00" fill="#FF66FF"/>
<rect x="492.70" y="494.30" width="4.00" height="4.00" fill="#FF66FF"/>
<rect x="501.00" y="496.60" width="4.00" height="4.00" fill="#FF66FF"/>
<rect x="511.10" y="499.00" width="4.00" height="4.00" fill="#FF66FF"/>
<rect x="522.30" y="500.20" width="4.00" height="4.00" fill="#FF66FF"/>
<rect x="535.60" y="501.40" width="4.00" height="4.00" fill="#FF66FF"/>
<rect x="552.00" y="502.80" width="4.00" height="4.00" fill="#FF66FF"/>
<rect x="571.30" y="503.70" width="4.00" height="4.00" fill="#FF66FF"/>
<rect x="595.60" y="504.00" width="4.00" height="4.00" fill="#FF66FF"/>
<rect x="626.90" y="504.90" width="4.00" height="4.00" fill="#FF66FF"/>
<line x1="553.70" y1="351.40" x2="574.70" y2="351.40" stroke="#FF66FF" stroke-width="1.5"/>
<rect x="562.50" y="349.40" width="4.00" height="4.00" fill="#FF66FF"/>
<line x1="553.70" y1="374.70" x2="574.70" y2="374.70" stroke="#C0C0C0" stroke-width="1.5"/>
<circle cx="564.50" cy="374.70" r="2.2" fill="#C0C0C0"/>
<text x="581.16" y="356.16" font-family="&quot;Liberation Sans&quot;, sans-serif" font-size="14.53" fill="#000" textLength="32.28" lengthAdjust="spacingAndGlyphs">SiO<tspan font-size="10.17" dy="3.49">2</tspan></text>
<text x="580.87" y="380.88" font-family="&quot;Liberation Sans&quot;, sans-serif" font-size="14.84" fill="#000" textLength="67.25" lengthAdjust="spacingAndGlyphs">SiO<tspan font-size="10.39" dy="3.56">2</tspan><tspan dy="-3.56">-HfS</tspan><tspan font-size="10.39" dy="3.56">2</tspan></text>
<text x="437.93" y="555.01" font-family="&quot;Liberation Sans&quot;, sans-serif" font-size="17.29" fill="#000" textLength="144.08" lengthAdjust="spacingAndGlyphs">Pore Diameter (nm)</text>
<text x="360.14" y="547.95" font-family="&quot;Liberation Sans&quot;, sans-serif" font-size="15.72" fill="#000" textLength="233.0" lengthAdjust="spacingAndGlyphs" transform="rotate(-90 360.14 547.95)">dV/dlog(D) Pore Volume (cm<tspan font-size="9.75" dy="-5.66">3</tspan><tspan dy="5.66">/g)</tspan></text>
<rect x="7.00" y="602.00" width="659.50" height="55.00" fill="#5B9BD5"/>
<rect x="7.00" y="660.50" width="129.00" height="43.50" fill="#5B9BD5"/>
<rect x="136.00" y="660.50" width="530.50" height="43.50" fill="#D2DEEF"/>
<rect x="7.00" y="705.00" width="129.00" height="44.00" fill="#5B9BD5"/>
<rect x="136.00" y="705.00" width="530.50" height="44.00" fill="#EAEFF7"/>
<line x1="136.00" y1="602.00" x2="136.00" y2="749.00" stroke="#fff" stroke-width="1.3" stroke-opacity="0.8"/>
<line x1="323.50" y1="602.00" x2="323.50" y2="749.00" stroke="#fff" stroke-width="1.3" stroke-opacity="0.8"/>
<line x1="502.20" y1="602.00" x2="502.20" y2="749.00" stroke="#fff" stroke-width="1.3" stroke-opacity="0.8"/>
<text x="138.65" y="628.14" font-family="&quot;Liberation Serif&quot;, serif" font-size="18.42" fill="#fff" textLength="165.19" lengthAdjust="spacingAndGlyphs" stroke="#fff" stroke-width="0.45">Surface Area (m<tspan font-size="11.42" dy="-6.63">2</tspan><tspan dy="6.63">/g)</tspan></text>
<text x="326.74" y="628.28" font-family="&quot;Liberation Serif&quot;, serif" font-size="18.45" fill="#fff" textLength="168.27" lengthAdjust="spacingAndGlyphs" stroke="#fff" stroke-width="0.45">PoreVolume (cm<tspan font-size="11.44" dy="-6.64">3</tspan><tspan dy="6.64">/g)</tspan></text>
<text x="505.4" y="628.07" font-family="&quot;Liberation Serif&quot;, serif" font-size="19.01" fill="#fff" textLength="123.06" lengthAdjust="spacingAndGlyphs" stroke="#fff" stroke-width="0.45">Pore Size (nm)</text>
<text x="9.28" y="685.38" font-family="&quot;Liberation Serif&quot;, serif" font-size="19.75" fill="#fff" textLength="38.68" lengthAdjust="spacingAndGlyphs" stroke="#fff" stroke-width="0.45">SiO<tspan font-size="13.03" dy="4.34">2</tspan></text>
<text x="9.48" y="731.82" font-family="&quot;Liberation Serif&quot;, serif" font-size="19.55" fill="#fff" textLength="84.99" lengthAdjust="spacingAndGlyphs" stroke="#fff" stroke-width="0.45">SiO<tspan font-size="12.9" dy="4.3">2</tspan><tspan dy="-4.3">-HfS</tspan><tspan font-size="12.9" dy="4.3">2</tspan></text>
<path d="M139.10,681.00 C140.20,678.40 142.80,678.10 144.60,679.90 C146.20,681.60 148.40,681.60 149.60,679.00" fill="none" stroke="#505050" stroke-width="1.35" stroke-linecap="round"/>
<text x="150.18" y="686.0" font-family="&quot;Liberation Serif&quot;, serif" font-size="21.62" fill="#000" textLength="30.28" lengthAdjust="spacingAndGlyphs">863</text>
<path d="M327.00,681.00 C328.10,678.40 330.70,678.10 332.50,679.90 C334.10,681.60 336.30,681.60 337.50,679.00" fill="none" stroke="#505050" stroke-width="1.35" stroke-linecap="round"/>
<text x="338.18" y="685.87" font-family="&quot;Liberation Serif&quot;, serif" font-size="19.95" fill="#000" textLength="25.72" lengthAdjust="spacingAndGlyphs">1.2</text>
<path d="M505.10,681.00 C506.20,678.40 508.80,678.10 510.60,679.90 C512.20,681.60 514.40,681.60 515.60,679.00" fill="none" stroke="#505050" stroke-width="1.35" stroke-linecap="round"/>
<text x="515.83" y="686.0" font-family="&quot;Liberation Serif&quot;, serif" font-size="21.0" fill="#000" textLength="25.92" lengthAdjust="spacingAndGlyphs">3.5</text>
<path d="M139.10,726.70 C140.20,724.10 142.80,723.80 144.60,725.60 C146.20,727.30 148.40,727.30 149.60,724.70" fill="none" stroke="#505050" stroke-width="1.35" stroke-linecap="round"/>
<text x="149.5" y="731.7" font-family="&quot;Liberation Serif&quot;, serif" font-size="20.4" fill="#000" textLength="31.96" lengthAdjust="spacingAndGlyphs">237</text>
<path d="M327.00,726.70 C328.10,724.10 330.70,723.80 332.50,725.60 C334.10,727.30 336.30,727.30 337.50,724.70" fill="none" stroke="#505050" stroke-width="1.35" stroke-linecap="round"/>
<text x="337.9" y="731.71" font-family="&quot;Liberation Serif&quot;, serif" font-size="20.38" fill="#000" textLength="26.14" lengthAdjust="spacingAndGlyphs">0.2</text>
<path d="M505.10,726.70 C506.20,724.10 508.80,723.80 510.60,725.60 C512.20,727.30 514.40,727.30 515.60,724.70" fill="none" stroke="#505050" stroke-width="1.35" stroke-linecap="round"/>
<text x="516.16" y="731.8" font-family="&quot;Liberation Serif&quot;, serif" font-size="20.28" fill="#000" textLength="25.46" lengthAdjust="spacingAndGlyphs">4.3</text>
</svg>
</body></html>
